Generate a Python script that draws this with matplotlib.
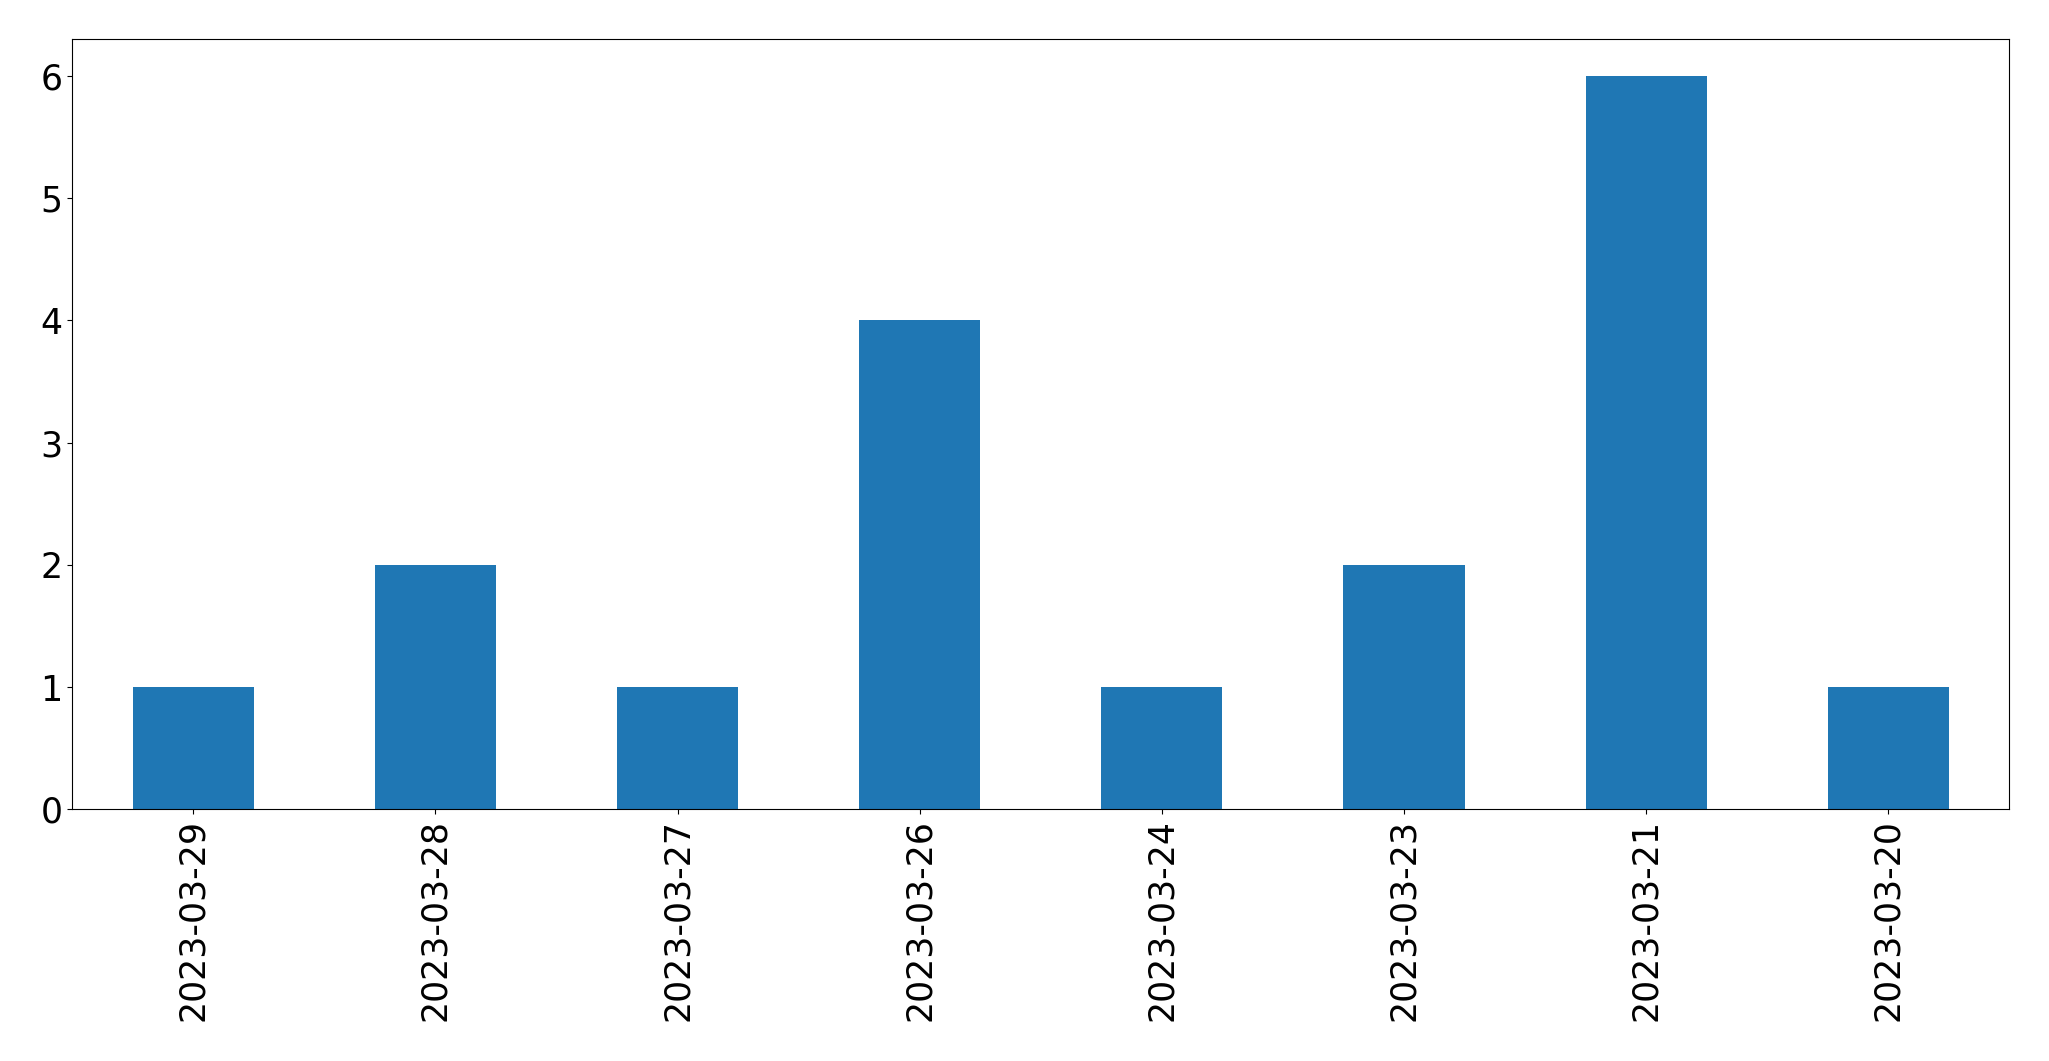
import matplotlib
matplotlib.use("Agg")
import matplotlib.pyplot as plt
import pandas as pd

dates = ["2023-03-29", "2023-03-28", "2023-03-27", "2023-03-26",
         "2023-03-24", "2023-03-23", "2023-03-21", "2023-03-20"]
counts = [1, 2, 1, 4, 1, 2, 6, 1]

fig = plt.figure(figsize=(20.49, 10.61), dpi=100)
ax = fig.add_axes([72.3 / 2049, 1 - 809.3 / 1061, (2009.3 - 72.3) / 2049, (809.3 - 39.3) / 1061])
s = pd.Series(counts, index=dates)
s.plot(kind="bar", ax=ax, color="#1f77b4")
ax.tick_params(axis="both", labelsize=25)
ax.set_ylim(0, max(counts) * 1.05)
fig.savefig("out.png", dpi=100)
